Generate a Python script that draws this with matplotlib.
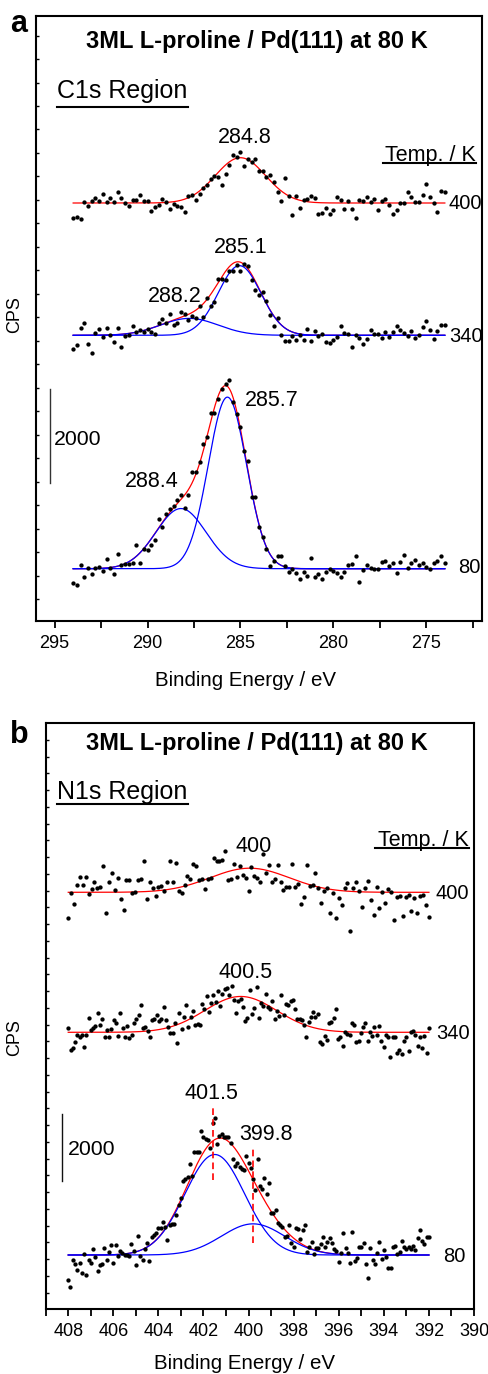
import numpy as np
import matplotlib
matplotlib.use('Agg')
import matplotlib.pyplot as plt
from matplotlib.ticker import MultipleLocator, FixedLocator, NullFormatter

plt.rcParams['font.family'] = ['Liberation Sans', 'DejaVu Sans']

W, H = 488, 1374

# ---------------- Panel a : C1s region ----------------
c1s_be_range = (294.0, 274.0)
c1s_80 = [-298, -355, 71, -170, 7, -121, 7, 35, -50, 206, 21, -106, 312, 85, 92, 92, 128, 496, 121, 411,
          397, 503, 610, 1049, 893, 1156, 1262, 1333, 1461, 1574, 1283, 1574, 2063, 2063, 2276, 2659, 2793, 3318, 3304, 3602,
          3814, 3921, 4013, 3545, 3283, 3020, 2496, 2297, 1524, 1524, 879, 681, 425, 57, 170, 269, 277, 57, -64, 0,
          -92, -227, -78, -149, 234, -184, -106, -213, -64, -7, -50, -99, -184, -78, 78, 99, 262, -291, -35, 78,
          14, 0, -14, 135, 156, 64, 113, -99, 142, 284, 21, 113, 184, 71, 128, 43, 0, 113, 163, 277, 128]
c1s_340 = [-284, -213, 156, 262, -191, -383, 50, 142, -35, 149, 7, -149, 156, -241, -21, 7, 191, 71, 106, 64,
           135, 71, 21, 269, 355, 255, 461, 227, 255, 489, 447, 326, 404, 376, 631, 383, 801, 631, 716, 1205,
           1191, 1170, 1361, 1375, 1503, 1368, 1517, 1482, 1177, 964, 851, 929, 723, 425, 199, 369, 0, -113, -113, -14,
           -106, 14, -99, 128, -121, 92, -14, 35, -142, -156, -99, -43, 206, 43, 21, -241, 0, -50, -177, -71,
           113, 21, 21, -57, 78, -35, 71, 206, 106, 43, -7, 99, -57, 14, 184, 312, 113, -71, 85, 213, 213]
c1s_400 = [-326, -298, -340, 14, -57, 43, 113, 35, 191, 28, 113, 21, 227, 113, 7, -64, 57, 57, 170, 50,
           43, -163, -92, -35, 92, 21, -135, -14, -57, -85, -184, 149, 170, 64, 199, 312, 376, 503, 574, 560,
           390, 617, 801, 1028, 978, 1085, 794, 929, 879, 936, 688, 681, 546, 603, 447, 241, 43, 532, 149, -262,
           149, -99, 64, 78, 149, 106, -241, -220, -113, -227, -156, 128, 64, -121, 35, -128, -312, 57, 35, 135,
           21, 85, -142, 50, 85, -50, -227, -156, 0, 7, 227, 135, 28, 28, 170, 397, 128, 7, -184, 262, 227]
c1s_offsets = [0, 4966, 7781]          # 80 K, 340 K, 400 K
c1s_temps = ['80', '340', '400']
# fitted components (centre eV, height CPS, sigma eV)
c1s_fit_80 = [(285.7, 3650, 1.03), (288.2, 1280, 1.35)]
c1s_fit_340 = [(285.05, 1482, 1.15), (287.75, 360, 1.55)]
c1s_fit_400 = [(285.0, 964, 1.35)]
c1s_peak_labels = [('284.8', 284.74, 9051), ('285.1', 284.98, 6711), ('288.2', 288.52, 5681),
                   ('285.7', 283.34, 3462), ('288.4', 289.76, 1745)]

# ---------------- Panel b : N1s region ----------------
n1s_be_range = (408.0, 392.0)
n1s_80 = [-750, -970, -160, -270, -450, -230, -550, 30, -600, -150, -250, 170, -70, -470, -310, -270, 200, -150, 100, 290,
          -230, 290, -30, 130, 70, 0, 10, -30, 330, 130, -310, 570, -30, -150, 170, 370, -170, 530, 600, 670,
          800, 820, 1000, 830, 450, 900, 940, 930, 1200, 1500, 1700, 2220, 2270, 2320, 2730, 2370, 3080, 3070, 3080, 3700,
          3520, 3470, 3420, 3200, 3930, 4080, 3300, 3550, 3620, 3530, 3520, 3520, 3350, 2870, 2660, 2750, 2620, 2570, 2530, 2970,
          2750, 2600, 2270, 1950, 2880, 2070, 1970, 2290, 1830, 2150, 1250, 1250, 1350, 950, 900, 830, 550, 580, 890, 350,
          250, 800, 770, 470, 750, 900, 100, 250, 400, 30, 200, 220, 330, 550, 250, 400, 520, 370, 170, 120,
          -220, 50, 670, 200, 50, -230, 700, -170, -100, 250, 240, 370, -280, -700, 210, -150, -280, 50, 400, -130,
          150, -70, -400, -400, 250, 270, 30, 100, 420, 250, 170, 230, 170, 270, 150, 500, 750, 420, 330, 550, 530]
n1s_340 = [120, -530, -480, -280, -80, -130, -80, -440, -80, 420, 70, 120, 190, 570, 220, 400, -140, 70, -130, 90,
           370, 270, -100, 570, 120, -130, 190, -180, -80, 270, 400, 520, 810, 120, 150, 50, -130, 370, 400, 520,
           350, 390, 770, 370, 150, -30, -10, 270, -310, 590, 100, 450, 820, 170, 470, 650, 220, 240, 220, 850,
           690, 1070, 620, 870, 1120, 890, 1240, 780, 1140, 1290, 1320, 1120, 1390, 970, 570, 920, 1000, 750, 350, 420,
           1250, 550, 740, 1350, 420, 870, 790, 1140, 750, 700, 920, 400, 650, 490, 1120, 520, 840, 820, 920, 970,
           690, 390, 400, 370, 220, -150, 300, 470, 600, 470, 540, -280, -350, -110, -230, 270, 320, 420, 700, -210,
           -130, -410, 20, -60, -80, 270, 220, -280, -250, -10, 170, 270, -270, 20, -110, 150, -80, 190, -250, -430,
           -90, -150, -730, -130, -150, -610, -530, -650, -250, -130, -550, 20, 50, -80, -410, -130, -480, -110, -630, 120]
n1s_400 = [-780, -30, -360, 210, 450, 230, 450, -50, 100, 300, 120, 160, 800, -630, 310, 570, 60, 440, -210, -530,
           370, 370, -30, 20, 370, 410, 920, -210, 310, 120, -110, 150, 190, 50, 310, 930, 300, 880, 40, -30,
           210, 490, 390, 850, 790, 370, 400, 100, 400, 440, 1020, 920, 940, 970, 1240, 370, 390, 850, 470, 790,
           520, 440, 50, 770, 500, 440, 320, 1150, 570, 820, 320, 390, 820, 300, 80, 150, 170, 850, 150, 250,
           -350, -130, 820, 200, 230, 590, 130, -310, 40, 130, -630, -30, -780, -180, -380, 120, 270, -1150, 120, 320,
           30, -450, 120, 340, -230, -680, 170, -480, 20, -310, 90, 20, -830, -130, -110, -700, -130, -80, -560, -180,
           -610, -110, -80, -380, -730]
n1s_offsets = [0, 6648, 10827]
n1s_temps = ['80', '340', '400']
n1s_fit_80 = [(401.5, 3000, 1.33), (399.8, 930, 1.4)]
n1s_fit_340 = [(400.35, 1070, 1.6)]
n1s_fit_400 = [(399.95, 720, 1.75)]
n1s_peak_labels = [('400', 399.79, 12021), ('400.5', 400.15, 8278), ('401.5', 401.65, 4657),
                   ('399.8', 399.24, 3433)]
n1s_dash_lines = [(401.6, 2239, 4418), (399.8, 366, 3164)]

title = '3ML L-proline / Pd(111) at 80 K'


def gauss(x, c, h, s):
    return h * np.exp(-0.5 * ((x - c) / s) ** 2)


def fig_xy(px, py):
    return px / W, 1 - py / H


fig = plt.figure(figsize=(W / 100, H / 100), dpi=100)


def style_axes(ax, xlim, ylim, major, minor, yticks):
    ax.set_xlim(*xlim)
    ax.set_ylim(*ylim)
    for sp in ax.spines.values():
        sp.set_linewidth(1.5)
    ax.xaxis.set_major_locator(MultipleLocator(major))
    ax.xaxis.set_minor_locator(MultipleLocator(minor))
    ax.xaxis.set_major_formatter(plt.FuncFormatter(lambda v, p: '%g' % v))
    ax.tick_params(axis='x', which='both', direction='out', length=5, width=1.3,
                   top=False, labelsize=13, pad=5)
    ax.yaxis.set_major_locator(FixedLocator(yticks))
    ax.yaxis.set_major_formatter(NullFormatter())
    ax.tick_params(axis='y', which='both', direction='in', length=2.5, width=1,
                   left=True, right=False)


def draw_panel(ax, rng, series, offsets, temps, fits, label_x, label_ys, xfit_pts=600):
    xf = np.linspace(rng[0], rng[1], xfit_pts)
    for y, off, fit in zip(series, offsets, fits):
        x = np.linspace(rng[0], rng[1], len(y))
        ax.plot(x, np.array(y) + off, 'o', ms=3.1, color='black', mec='none', zorder=4)
        total = sum(gauss(xf, *c) for c in fit)
        ax.plot(xf, total + off, color='#ff0000', lw=0.9, zorder=2)
        if len(fit) > 1:
            for c in fit:
                ax.plot(xf, gauss(xf, *c) + off, color='#0000ff', lw=0.9, zorder=3)
    for t, lx, ly in zip(temps, label_x, label_ys):
        ax.text(lx, ly, t, fontsize=14.5, ha='left', va='baseline')


# ---------- panel a ----------
axa = fig.add_axes([36 / W, 1 - 621 / H, 446 / W, 605 / H])
style_axes(axa, (296, 272), (-1113, 11760), 5, 2.5, np.arange(-655, 11760, 500))
draw_panel(axa, c1s_be_range, [c1s_80, c1s_340, c1s_400], c1s_offsets, c1s_temps,
           [c1s_fit_80, c1s_fit_340, c1s_fit_400], [273.3, 273.78, 273.78], [-91, 4823, 7653])
for t, x, y in c1s_peak_labels:
    axa.text(x, y, t, fontsize=15.5, ha='center', va='baseline')
axa.text(284.09, 11083, title, fontsize=17, fontweight='bold', ha='center', va='baseline')
axa.text(294.89, 10008, 'C1s Region', fontsize=18, ha='left', va='baseline')
axa.plot([294.89, 287.82], [9830, 9830], color='black', lw=1.5)
axa.text(272.32, 8675, 'Temp. / K', fontsize=15.5, ha='right', va='baseline')
axa.plot([277.34, 272.32], [8625, 8625], color='black', lw=1.5)
axa.plot([295.27, 295.27], [1830, 3823], color='#333333', lw=1.0)
axa.text(295.05, 2626, '2000', fontsize=15.3, ha='left', va='baseline')

# ---------- panel b ----------
axb = fig.add_axes([45.7 / W, 1 - 1309 / H, 428.3 / W, 585.7 / H])
style_axes(axb, (409, 390), (-1612, 15872), 2, 1, np.arange(-1620, 15872, 500))
draw_panel(axb, n1s_be_range, [n1s_80, n1s_340, n1s_400], n1s_offsets, n1s_temps,
           [n1s_fit_80, n1s_fit_340, n1s_fit_400], [391.35, 391.66, 391.70], [-209, 6448, 10627])
for t, x, y in n1s_peak_labels:
    axb.text(x, y, t, fontsize=15.5, ha='center', va='baseline')
for x, y0, y1 in n1s_dash_lines:
    axb.plot([x, x], [y0, y1], color='#ff0000', lw=1.2, ls=(0, (4, 2.5)), zorder=5)
axb.text(399.63, 15075, title, fontsize=17, fontweight='bold', ha='center', va='baseline')
axb.text(408.52, 13603, 'N1s Region', fontsize=18, ha='left', va='baseline')
axb.plot([408.52, 402.69], [13463, 13463], color='black', lw=1.5)
axb.text(390.22, 12218, 'Temp. / K', fontsize=15.5, ha='right', va='baseline')
axb.plot([394.41, 390.22], [12158, 12158], color='black', lw=1.5)
axb.plot([408.29, 408.29], [2209, 4209], color='#111111', lw=1.0)
axb.text(408.0, 2985, '2000', fontsize=15.3, ha='left', va='baseline')

# ---------- figure texts ----------
fig.text(*fig_xy(10, 32), 'a', fontsize=22, fontweight='bold', ha='left', va='baseline')
fig.text(*fig_xy(10, 743), 'b', fontsize=22, fontweight='bold', ha='left', va='baseline')
fig.text(*fig_xy(15, 315), 'CPS', fontsize=13, rotation=90, ha='center', va='center')
fig.text(*fig_xy(15, 1038), 'CPS', fontsize=13, rotation=90, ha='center', va='center')
fig.text(*fig_xy(246, 686.5), 'Binding Energy / eV', fontsize=14.8, ha='center', va='baseline')
fig.text(*fig_xy(244.5, 1369.3), 'Binding Energy / eV', fontsize=14.8, ha='center', va='baseline')

fig.savefig('out.png', dpi=100, facecolor='white')
